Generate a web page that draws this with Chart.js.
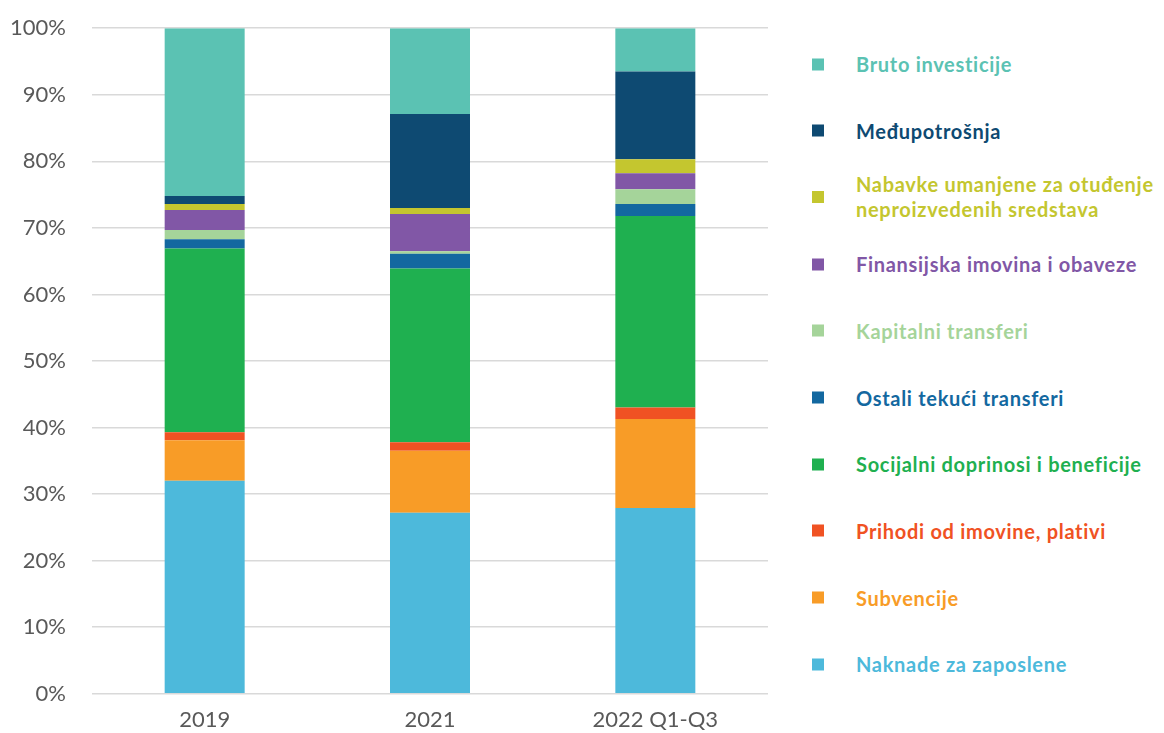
<!DOCTYPE html>
<html>
<head>
<meta charset="utf-8">
<script src="https://cdn.jsdelivr.net/npm/chart.js@4.4.0/dist/chart.umd.min.js"></script>
<style>
  body { margin: 0; background: #fff; width: 1164px; height: 733px; overflow: hidden; font-family: 'Lato', sans-serif; }
  #wrap { position: absolute; left: 0; top: -11px; width: 780px; height: 744px; }
  #legend { position: absolute; left: 812px; top: 0; width: 352px; height: 733px; }
  .item { position: absolute; left: 0; display: flex; align-items: center; transform: translateY(-50%); }
  .sw { width: 12px; height: 12px; flex: none; }
  .lbl { margin-left: 32px; font-weight: 700; font-size: 20px; letter-spacing: 0.7px; line-height: 25px; white-space: nowrap; }
</style>
</head>
<body>
<div id="wrap"><canvas id="chart"></canvas></div>
<div id="legend"></div>
<script>
const categories = ['2019', '2021', '2022 Q1-Q3'];
const yTicks = [0, 10, 20, 30, 40, 50, 60, 70, 80, 90, 100];

// shares in % (bottom to top of the stack)
const naknade      = [32.0, 27.2, 27.9];
const subvencije   = [6.1, 9.3, 13.4];
const prihodi      = [1.2, 1.3, 1.7];
const socijalni    = [27.6, 26.1, 28.8];
const ostali       = [1.4, 2.2, 1.8];
const kapitalni    = [1.4, 0.4, 2.2];
const finansijska  = [3.0, 5.6, 2.4];
const nabavke      = [0.9, 0.9, 2.1];
const medju        = [1.2, 14.1, 13.2];
const bruto        = [25.2, 12.9, 6.5];

const series = [
  { label: 'Naknade za zaposlene', data: naknade, color: '#4DB9DB' },
  { label: 'Subvencije', data: subvencije, color: '#F89C27' },
  { label: 'Prihodi od imovine, plativi', data: prihodi, color: '#F05223' },
  { label: 'Socijalni doprinosi i beneficije', data: socijalni, color: '#1FB050' },
  { label: 'Ostali tekući transferi', data: ostali, color: '#1368A0' },
  { label: 'Kapitalni transferi', data: kapitalni, color: '#A5D49A' },
  { label: 'Finansijska imovina i obaveze', data: finansijska, color: '#8157A6' },
  { label: ['Nabavke umanjene za otuđenje', 'neproizvedenih sredstava'], data: nabavke, color: '#C4C62F' },
  { label: 'Međupotrošnja', data: medju, color: '#0E4A72' },
  { label: 'Bruto investicije', data: bruto, color: '#5BC2B3' }
];

const chart = new Chart(document.getElementById('chart').getContext('2d'), {
  type: 'bar',
  data: {
    labels: categories,
    datasets: series.map(s => ({
      label: Array.isArray(s.label) ? s.label.join(' ') : s.label,
      data: s.data,
      backgroundColor: s.color,
      borderWidth: 0
    }))
  },
  options: {
    responsive: true,
    maintainAspectRatio: false,
    animation: false,
    layout: { padding: { top: 0, right: 12, left: 0, bottom: 0 } },
    datasets: { bar: { barPercentage: 1, categoryPercentage: 0.355 } },
    plugins: { legend: { display: false }, tooltip: { enabled: false } },
    scales: {
      x: {
        stacked: true,
        afterFit: s => { s.height = 39; },
        grid: { display: false, drawTicks: false },
        border: { display: false },
        ticks: { color: '#595959', font: { family: 'Lato', size: 22 }, padding: 13 }
      },
      y: {
        stacked: true,
        min: 0,
        max: 100,
        afterFit: s => { s.width = 92; },
        afterBuildTicks: s => { s.ticks = yTicks.map(v => ({ value: v })); },
        grid: { color: '#D9D9D9', drawTicks: false, lineWidth: 1.5 },
        border: { display: false },
        ticks: { color: '#595959', font: { family: 'Lato', size: 22 }, padding: 26, callback: v => v + '%' }
      }
    }
  }
});

// legend, top entry = top of the stack
const legend = document.getElementById('legend');
series.slice().reverse().forEach((s, i) => {
  const it = document.createElement('div');
  it.className = 'item';
  it.style.top = (64 + i * 66.7) + 'px';
  const sw = document.createElement('div');
  sw.className = 'sw';
  sw.style.background = s.color;
  const lb = document.createElement('div');
  lb.className = 'lbl';
  lb.style.color = s.color;
  lb.innerHTML = Array.isArray(s.label) ? s.label.join('<br>') : s.label;
  it.appendChild(sw);
  it.appendChild(lb);
  legend.appendChild(it);
});
</script>
</body>
</html>
